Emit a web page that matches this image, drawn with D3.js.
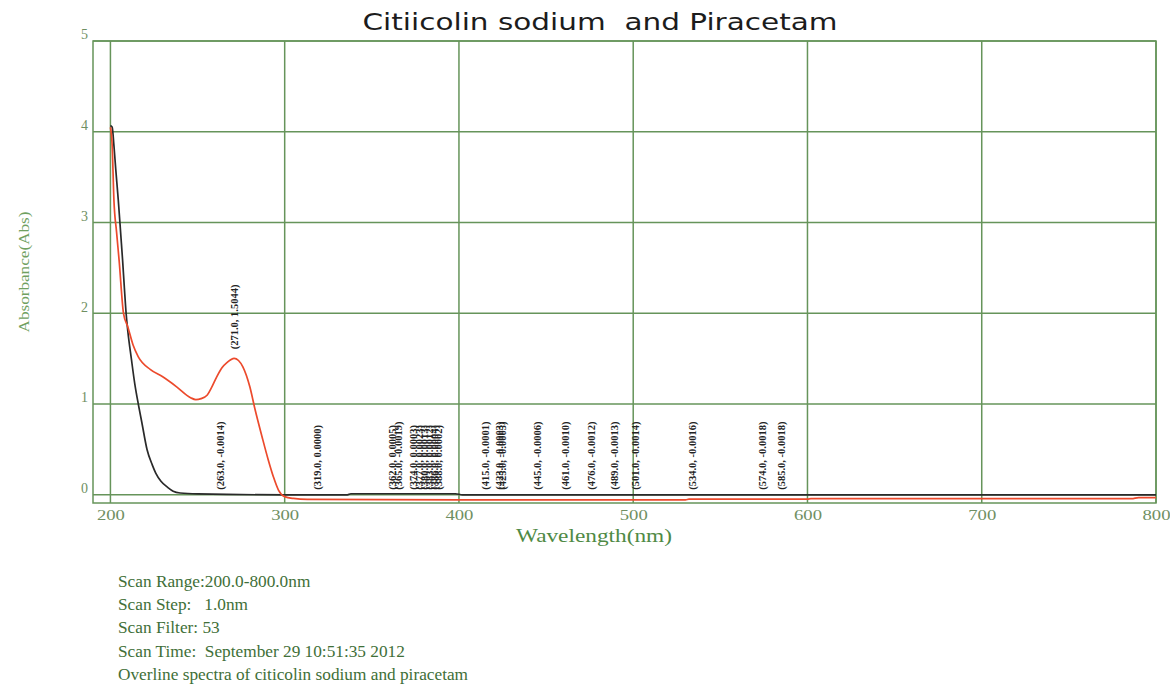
<!DOCTYPE html>
<html>
<head>
<meta charset="utf-8">
<script src="https://cdn.jsdelivr.net/npm/d3@7"></script>
<style>
  body { margin: 0; background: #fff; }
  svg { display: block; }
  .peak-label { font-family: "Liberation Serif", serif; font-weight: bold; font-size: 10.5px; fill: #222; }
  .tick-label { font-family: "Liberation Serif", serif; fill: #6f8f62; }
  .info { font-family: "Liberation Serif", serif; font-size: 16px; fill: #3f6f38; }
</style>
</head>
<body>
<svg id="chart" width="1170" height="686"></svg>
<script>
// Spectrum of citicolin sodium (black) and piracetam (red)
const blackWave = [200, 201, 202, 203, 204.5, 206, 207, 208, 209, 210, 212, 214, 216, 218, 221, 224, 226, 229, 233, 236, 240, 250, 300, 336, 338, 398, 402, 800];
const blackAbs  = [4.07, 4.05, 3.85, 3.6, 3.25, 2.85, 2.58, 2.28, 2.0, 1.8, 1.5, 1.22, 1.0, 0.8, 0.5, 0.33, 0.24, 0.15, 0.08, 0.04, 0.02, 0.01, 0.0, 0.0, 0.012, 0.012, 0.0, 0.0];

const redWave = [200, 201, 202, 203.5, 205, 207.5, 210, 213, 216, 223, 230, 238, 246, 249, 252, 255.6, 258, 261, 264, 267, 271, 273.5, 276, 280, 283, 287, 290.5, 293.5, 296.5, 300, 305, 313, 400, 530, 532, 600, 602, 786, 790, 800];
const redAbs  = [4.05, 3.85, 3.25, 2.9, 2.58, 2.0, 1.85, 1.65, 1.52, 1.38, 1.30, 1.19, 1.07, 1.05, 1.06, 1.1, 1.18, 1.3, 1.4, 1.46, 1.504, 1.48, 1.41, 1.19, 0.94, 0.64, 0.39, 0.2, 0.05, -0.02, -0.04, -0.05, -0.055, -0.055, -0.048, -0.048, -0.042, -0.042, -0.03, -0.03];

// Peak pick labels
const peakWave = [271.0];
const peakAbs  = [1.5044];
const valleyWave = [263.0, 319.0, 362.0, 365.0, 374.0, 377.0, 380.0, 383.0, 386.0, 388.0, 415.0, 423.0, 425.0, 445.0, 461.0, 476.0, 489.0, 501.0, 534.0, 574.0, 585.0];
const valleyAbs  = [-0.0014, 0.0000, 0.0005, -0.0019, 0.0003, 0.0023, 0.0013, 0.0012, 0.0004, 0.0002, -0.0001, -0.0003, -0.0005, -0.0006, -0.0010, -0.0012, -0.0013, -0.0014, -0.0016, -0.0018, -0.0018];

const xTicks = [200, 300, 400, 500, 600, 700, 800];
const yTicks = [0, 1, 2, 3, 4, 5];

const infoLines = [
  "Scan Range:200.0-800.0nm",
  "Scan Step:   1.0nm",
  "Scan Filter: 53",
  "Scan Time:  September 29 10:51:35 2012",
  "Overline spectra of citicolin sodium and piracetam"
];

const svg = d3.select("#chart");
const gridColor = "#66945a";

const x = d3.scaleLinear().domain([190, 800]).range([93, 1156]);
const y = d3.scaleLinear().domain([-0.09, 5]).range([503, 41]);

// Frame
svg.append("rect")
  .attr("x", x(190)).attr("y", y(5))
  .attr("width", x(800) - x(190)).attr("height", y(-0.09) - y(5))
  .attr("fill", "none").attr("stroke", gridColor).attr("stroke-width", 1.5);

// Grid
svg.append("g").selectAll("line").data(xTicks).join("line")
  .attr("x1", d => x(d)).attr("x2", d => x(d))
  .attr("y1", y(5)).attr("y2", y(-0.09))
  .attr("stroke", gridColor).attr("stroke-width", 1.5);

svg.append("g").selectAll("line").data(yTicks).join("line")
  .attr("x1", x(190)).attr("x2", x(800))
  .attr("y1", d => y(d)).attr("y2", d => y(d))
  .attr("stroke", gridColor).attr("stroke-width", 1.5);

// Axes (labels only)
const xAxis = svg.append("g")
  .attr("transform", `translate(0,${y(-0.09)})`)
  .call(d3.axisBottom(x).tickValues(xTicks).tickSize(0).tickPadding(6).tickFormat(d3.format("d")));
xAxis.select(".domain").remove();
xAxis.selectAll("text").attr("class", "tick-label").attr("font-size", 15)
  .attr("textLength", 28).attr("lengthAdjust", "spacingAndGlyphs").attr("fill", "#6f8f62");

const yAxis = svg.append("g")
  .attr("transform", `translate(${x(190)},0)`)
  .call(d3.axisLeft(y).tickValues(yTicks).tickSize(0).tickPadding(5).tickFormat(d3.format("d")));
yAxis.select(".domain").remove();
yAxis.selectAll("text").attr("class", "tick-label").attr("font-size", 14).attr("dy", "-0.15em").attr("fill", "#7f9a75");

// Curves
const line = d3.line().x(d => x(d[0])).y(d => y(d[1])).curve(d3.curveMonotoneX);

svg.append("path")
  .datum(blackWave.map((w, i) => [w, blackAbs[i]]))
  .attr("fill", "none").attr("stroke", "#2a2a2a").attr("stroke-width", 1.7)
  .attr("d", line);

svg.append("path")
  .datum(redWave.map((w, i) => [w, redAbs[i]]))
  .attr("fill", "none").attr("stroke", "#ec4a2c").attr("stroke-width", 1.7)
  .attr("d", line);

// Peak / valley labels (vertical)
const fmt = (w, a) => `(${w.toFixed(1)}, ${a.toFixed(4)})`;

svg.append("g").selectAll("text").data(valleyWave).join("text")
  .attr("class", "peak-label")
  .attr("transform", d => `translate(${x(d)},${y(0) - 5}) rotate(-90)`)
  .attr("dy", "0.35em")
  .text((d, i) => fmt(d, valleyAbs[i]));

svg.append("g").selectAll("text").data(peakWave).join("text")
  .attr("class", "peak-label")
  .attr("transform", (d, i) => `translate(${x(d)},${y(peakAbs[i]) - 9}) rotate(-90)`)
  .attr("dy", "0.35em")
  .text((d, i) => fmt(d, peakAbs[i]));

// Title and axis titles
svg.append("text")
  .attr("x", 600).attr("y", 30)
  .attr("text-anchor", "middle")
  .style("font-family", "'DejaVu Sans', sans-serif")
  .style("font-size", "23px")
  .style("white-space", "pre")
  .attr("textLength", 475).attr("lengthAdjust", "spacingAndGlyphs")
  .attr("fill", "#1c1c1c")
  .text("Citiicolin sodium  and Piracetam");

svg.append("text")
  .attr("x", 594).attr("y", 542)
  .attr("text-anchor", "middle")
  .style("font-family", "'Liberation Serif', serif")
  .style("font-size", "18px")
  .attr("textLength", 156).attr("lengthAdjust", "spacingAndGlyphs")
  .attr("fill", "#4f8a45")
  .text("Wavelength(nm)");

svg.append("text")
  .attr("transform", "translate(24,272) rotate(-90)")
  .attr("text-anchor", "middle")
  .attr("dy", "0.35em")
  .style("font-family", "'Liberation Serif', serif")
  .style("font-size", "15px")
  .attr("textLength", 121).attr("lengthAdjust", "spacingAndGlyphs")
  .attr("fill", "#6fa060")
  .text("Absorbance(Abs)");

// Scan info
svg.append("g")
  .attr("transform", "translate(118,0) scale(1.08,1)")
  .selectAll("text").data(infoLines).join("text")
  .attr("class", "info")
  .attr("x", 0)
  .attr("y", (d, i) => 587 + i * 23.2)
  .style("white-space", "pre")
  .text(d => d);
</script>
</body>
</html>
